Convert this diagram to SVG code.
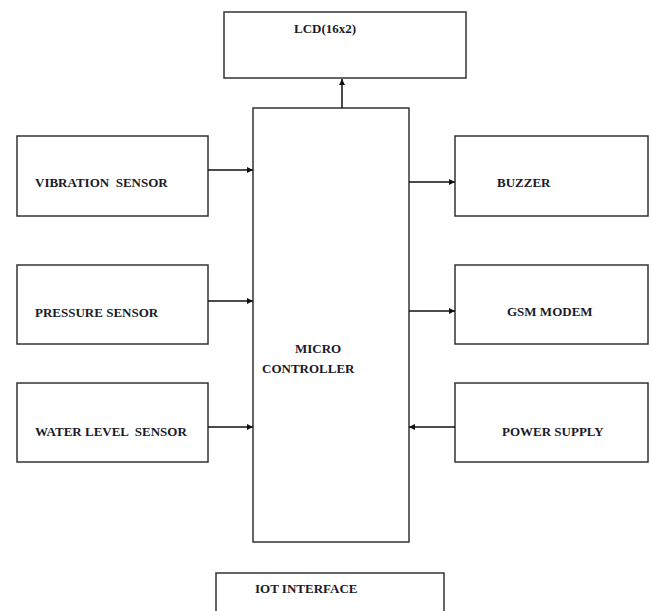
<svg xmlns="http://www.w3.org/2000/svg" width="651" height="611" viewBox="0 0 651 611">
<defs>
<marker id="ah" viewBox="0 0 10 10" refX="10" refY="5" markerWidth="6" markerHeight="6" orient="auto" markerUnits="userSpaceOnUse"><path d="M0,0 L10,5 L0,10 z" fill="#111"/></marker>
</defs>
<style>
.box{fill:#fff;stroke:#333;stroke-width:1.5}
.t{font-family:"Liberation Serif","Times New Roman",serif;font-weight:bold;font-size:13px;fill:#1a1a2a;white-space:pre}
.c{stroke:#111;stroke-width:1.5;fill:none;marker-end:url(#ah)}
</style>
<rect width="651" height="611" fill="#fff"/>
<g id="lcd"><rect class="box" x="224" y="12" width="242" height="66"/><text class="t" x="294" y="33">LCD(16x2)</text></g>
<g id="micro"><rect class="box" x="253" y="108" width="156" height="434"/><text class="t" x="295" y="353">MICRO</text><text class="t" x="262" y="373">CONTROLLER</text></g>
<g id="vibration"><rect class="box" x="17" y="136" width="191" height="80"/><text class="t" x="35" y="187" xml:space="preserve">VIBRATION  SENSOR</text></g>
<g id="pressure"><rect class="box" x="17" y="265" width="191" height="79"/><text class="t" x="35" y="317">PRESSURE SENSOR</text></g>
<g id="water"><rect class="box" x="17" y="383" width="191" height="79"/><text class="t" x="35" y="436" xml:space="preserve">WATER LEVEL  SENSOR</text></g>
<g id="buzzer"><rect class="box" x="455" y="136" width="193" height="80"/><text class="t" x="497" y="187">BUZZER</text></g>
<g id="gsm"><rect class="box" x="455" y="265" width="193" height="79"/><text class="t" x="507" y="316">GSM MODEM</text></g>
<g id="power"><rect class="box" x="455" y="383" width="193" height="79"/><text class="t" x="502" y="436">POWER SUPPLY</text></g>
<g id="iot"><rect class="box" x="216" y="573" width="228" height="50"/><text class="t" x="255" y="593">IOT INTERFACE</text></g>
<g id="connectors">
<line class="c" x1="342" y1="108" x2="342" y2="79"/>
<line class="c" x1="208" y1="170" x2="253" y2="170"/>
<line class="c" x1="208" y1="301" x2="253" y2="301"/>
<line class="c" x1="208" y1="427" x2="253" y2="427"/>
<line class="c" x1="409" y1="182" x2="455" y2="182"/>
<line class="c" x1="409" y1="311" x2="455" y2="311"/>
<line class="c" x1="455" y1="427" x2="409" y2="427"/>
</g>
</svg>
